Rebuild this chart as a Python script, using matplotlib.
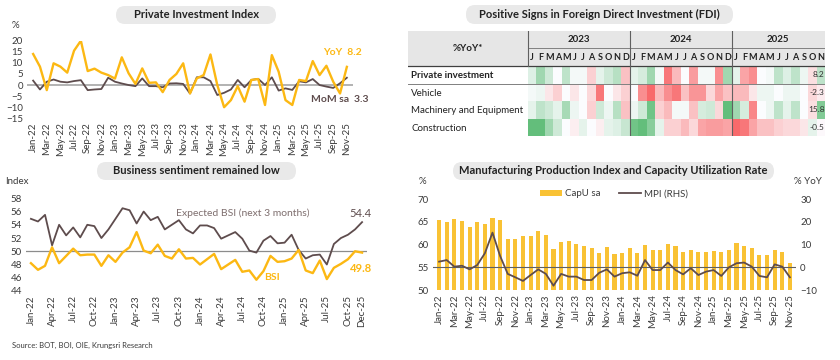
import numpy as np
import pandas as pd
import matplotlib
matplotlib.use("Agg")
import matplotlib.pyplot as plt
from matplotlib.patches import FancyBboxPatch, Patch, Rectangle
from matplotlib.lines import Line2D
from matplotlib.colors import LinearSegmentedColormap, TwoSlopeNorm
from matplotlib.transforms import IdentityTransform

plt.rcParams["font.family"] = ["Lato", "DejaVu Sans"]

W, H = 840, 360
YELLOW = "#FCB813"
BAR_YELLOW = "#F9C234"
BROWN = "#5E4C4D"
TXT = "#3A3A3A"

# ---- Private Investment Index (Jan-22 .. Nov-25) ----
pii_months = pd.date_range("2022-01", "2025-11", freq="MS").strftime("%b-%y").tolist()
pii_yoy = [14.0, 8.3, -2.3, 9.8, 8.3, 5.6, 15.5, 20.0, 6.3, 7.4, 5.6, 4.5,
           2.9, 12.5, 5.3, 0.5, 7.5, 1.0, 1.2, -3.2, 2.3, 5.0, 9.8, -3.8,
           3.0, 4.5, 13.8, 0.0, -10.0, -6.8, -0.5, -7.5, 2.3, 2.7, -9.0, 13.5,
           6.0, -6.8, -9.0, 2.3, 1.8, 10.8, 4.5, 8.7, 1.5, -3.8, 8.2]
pii_mom = [2.0, -2.0, 1.5, 2.5, 1.5, 1.2, 1.8, 2.2, -2.3, -2.0, -1.8, 3.3,
           1.5, 0.7, 0.0, -0.5, 3.0, -0.5, -0.5, -1.0, 0.7, 0.8, 0.5, -3.8,
           3.5, 3.5, 1.8, -4.5, -3.5, -2.0, 2.3, -1.0, 2.3, 2.8, 0.0, 3.5,
           -2.5, -1.5, -2.2, 1.7, 1.2, 2.7, 0.0, -0.7, -1.3, 0.8, 3.3]

# ---- Business sentiment (Jan-22 .. Dec-25) ----
bsi_months = pd.date_range("2022-01", "2025-12", freq="MS").strftime("%b-%y").tolist()
bsi = [48.2, 47.2, 47.8, 50.6, 48.2, 49.3, 50.4, 49.4, 49.5, 49.5, 47.8, 49.4,
       48.4, 49.8, 50.6, 52.9, 50.1, 49.7, 51.0, 49.3, 48.9, 50.3, 48.9, 49.0,
       48.0, 48.8, 49.6, 47.3, 48.0, 48.7, 46.9, 47.1, 45.7, 47.0, 49.3, 48.4,
       48.5, 48.9, 50.2, 47.1, 46.7, 48.6, 45.8, 47.5, 48.1, 48.8, 50.0, 49.8]
bsi_expected = [54.9, 54.5, 55.5, 50.9, 54.0, 52.4, 53.6, 52.1, 54.0, 53.8, 52.0, 53.3,
                54.9, 56.5, 56.2, 54.2, 56.0, 54.7, 55.2, 53.3, 54.0, 54.7, 53.3, 52.7,
                53.9, 53.9, 53.5, 51.9, 52.4, 52.9, 51.9, 50.1, 49.8, 51.6, 52.3, 51.2,
                51.3, 52.5, 50.2, 48.9, 49.4, 49.5, 48.0, 51.1, 52.0, 52.5, 53.3, 54.4]

# ---- FDI heatmap (%YoY, Jan-23 .. Nov-25) ----
fdi_rows = ["Private investment", "Vehicle", "Machinery and Equipment", "Construction"]
fdi_years = ["2023", "2024", "2025"]
fdi_month_letters = list("JFMAMJJASOND") * 2 + list("JFMAMJJASON")
fdi_private = [4, 12, 6, 0, 8, 1, 1, -6, 3, 6, 9, -8,
               3, 5, 12, 1, -18, -9, 0, -13, 1, 1, -15, 12,
               3, -12, -15, 0, 1, 8, 4, 8, 2, -4, 8.2]
fdi_vehicle = [1, 2, -3, -6, 0, -3, 0, -5, -18, 0, -3, -6,
               0, -15, -20, -9, -15, -18, -8, -14, -14, -5, -12, -8,
               -9, -9, -3, 2, 2, 0, 2, 2, 0, -5, -2.3]
fdi_machinery = [3, 8, 6, 3, 11, 2, 0, -6, 6, 2, 9, -8,
                 2, 6, 18, -6, -9, 1, 1, -8, 5, 6, -5, 21,
                 12, 5, -16, 0, 2, 8, 3, 8, 0, -4, 15.8]
fdi_construction = [21, 21, 12, 6, 0, -2, 3, 0, -2, 3, 4, 7,
                    18, 22, 15, 3, -6, -6, -9, -5, -12, -13, -13, -12,
                    -20, -18, -12, -8, -8, -6, -5, -5, -3, 3, -0.5]

# ---- Manufacturing (Jan-22 .. Nov-25) ----
mpi_months = pii_months
capu = [65.4, 65.1, 65.6, 65.2, 63.8, 64.9, 64.5, 65.8, 65.4, 61.3, 61.3, 61.8,
        61.8, 62.9, 62.1, 59.0, 60.6, 60.8, 60.1, 59.6, 59.2, 58.2, 59.4, 57.9,
        58.2, 59.3, 58.2, 59.9, 58.8, 58.8, 60.2, 59.7, 58.4, 58.9, 58.4, 58.4,
        58.7, 58.4, 58.9, 60.3, 59.6, 59.3, 57.7, 57.7, 58.9, 58.3, 55.9]
mpi = [2.5, 3.2, 0.3, 0.7, -0.9, 1.0, 6.2, 15.3, 5.0, -2.9, -4.4, -6.0,
       -3.4, -0.9, -2.9, -8.1, -2.9, -4.1, -4.1, -5.6, -5.6, -2.4, -0.9, -4.1,
       -2.6, -2.2, -3.7, 3.2, -1.2, -1.2, 2.1, -1.2, -3.1, -0.4, -3.4, -1.9,
       -1.2, -3.8, 0.0, 1.8, 2.1, 0.3, -3.8, -4.4, 1.3, 0.3, -4.4]


def px_axes(fig, x0, y0, x1, y1):
    return fig.add_axes([x0 / W, 1 - y1 / H, (x1 - x0) / W, (y1 - y0) / H])


def pill(fig, x0, y0, x1, y1, text):
    box = FancyBboxPatch((x0, H - y1), x1 - x0, y1 - y0,
                         boxstyle="round,pad=0,rounding_size=9",
                         transform=IdentityTransform(),
                         facecolor="#E9E9E9", edgecolor="none")
    fig.add_artist(box)
    fig.text((x0 + x1) / 2 / W, 1 - (y0 + y1) / 2 / H, text, ha="center",
             va="center", fontsize=8, fontweight="bold", color="#222222")


def style(ax):
    for s in ax.spines.values():
        s.set_visible(False)
    ax.tick_params(length=0, labelsize=7, colors=TXT, pad=3)
    ax.tick_params(axis="x", rotation=90)


def main():
    fig = plt.figure(figsize=(8.4, 3.6), dpi=100)

    # Private investment index
    pill(fig, 116, 6, 276, 24, "Private Investment Index")
    ax1 = px_axes(fig, 27, 40.7, 353, 118.3)
    x = np.arange(len(pii_months))
    ax1.axhline(0, color="#A6A6A6", lw=1.2, zorder=1)
    ax1.plot(x, pii_yoy, color=YELLOW, lw=1.7, zorder=3)
    ax1.plot(x, pii_mom, color=BROWN, lw=1.3, zorder=2)
    ax1.set_xlim(-0.9, len(x) - 0.1)
    ax1.set_ylim(-15, 20)
    ax1.set_yticks(range(-15, 25, 5))
    ax1.set_xticks(x[::2])
    ax1.set_xticklabels(pii_months[::2])
    style(ax1)
    ax1.annotate(f"YoY  {pii_yoy[-1]}", xy=(x[-1], pii_yoy[-1]), xytext=(-4, 14),
                 textcoords="offset pixels", ha="center", va="center",
                 color=YELLOW, fontsize=7.5, fontweight="bold")
    ax1.annotate(f"MoM sa  {pii_mom[-1]}", xy=(x[-1], pii_mom[-1]), xytext=(-7, -22),
                 textcoords="offset pixels", ha="center", va="center",
                 color=BROWN, fontsize=7.5, fontweight="bold")
    fig.text(15 / W, 1 - 25 / H, "%", fontsize=7, color=TXT, ha="center", va="center")

    # Business sentiment
    pill(fig, 97, 162, 296, 180, "Business sentiment remained low")
    ax2 = px_axes(fig, 26, 198.3, 367, 291)
    xb = np.arange(len(bsi_months))
    ax2.axhline(50, color="#8C8C8C", lw=0.9, zorder=1)
    ax2.plot(xb, bsi_expected, color=BROWN, lw=1.3, zorder=2)
    ax2.plot(xb, bsi, color=YELLOW, lw=1.7, zorder=3)
    ax2.set_xlim(-0.7, len(xb) - 0.3)
    ax2.set_ylim(44, 58)
    ax2.set_yticks(range(44, 60, 2))
    ticks = list(xb[::3]) + [xb[-1]]
    ax2.set_xticks(ticks)
    ax2.set_xticklabels([bsi_months[i] for i in ticks])
    style(ax2)
    ax2.text(30, 55.7, "Expected BSI (next 3 months)", color="#7E6E6E",
             fontsize=7.5, ha="center", va="center")
    ax2.annotate(f"{bsi_expected[-1]}", xy=(xb[-1], bsi_expected[-1]), xytext=(-2, 9),
                 textcoords="offset pixels", ha="center", va="center",
                 color=BROWN, fontsize=8)
    ax2.text(34.2, 46.0, "BSI", color=YELLOW, fontsize=7.5, fontweight="bold",
             ha="center", va="center")
    ax2.annotate(f"{bsi[-1]}", xy=(xb[-1], bsi[-1]), xytext=(-1, -16),
                 textcoords="offset pixels", ha="center", va="center",
                 color=YELLOW, fontsize=8, fontweight="bold")
    fig.text(17 / W, 1 - 182 / H, "Index", fontsize=7, color=TXT, ha="center", va="center")
    fig.text(12 / W, 1 - 345 / H, "Source: BOT, BOI, OIE, Krungsri Research",
             fontsize=5.5, color=TXT, ha="left", va="center")

    # FDI heatmap table
    pill(fig, 466, 5, 733, 24, "Positive Signs in Foreign Direct Investment (FDI)")
    ax3 = px_axes(fig, 408, 31, 825, 136)
    ncol = len(fdi_month_letters)
    left = -120 / ((825 - 528) / ncol)
    ax3.set_xlim(left, ncol)
    ax3.set_ylim(len(fdi_rows), -2)
    ax3.axis("off")
    ax3.add_patch(Rectangle((left, -2), ncol - left, 2, facecolor="#E6E6E6",
                            edgecolor="none"))
    grid = np.array([fdi_private, fdi_vehicle, fdi_machinery, fdi_construction])
    cmap = LinearSegmentedColormap.from_list("xl", ["#F8696B", "#FCFCFF", "#63BE7B"])
    ax3.pcolormesh(np.arange(ncol + 1), np.arange(len(fdi_rows) + 1), grid,
                   cmap=cmap, norm=TwoSlopeNorm(0, -20, 20))
    ax3.plot([left, ncol], [0, 0], color="#404040", lw=0.9)
    ax3.plot([left, ncol], [1, 1], color="#808080", lw=0.7)
    ax3.plot([left, ncol], [len(fdi_rows), len(fdi_rows)], color="#808080", lw=0.7)
    ax3.plot([0, ncol], [-1, -1], color="#808080", lw=0.7)
    for b in [0, 12, 24]:
        ax3.plot([b, b], [-2, len(fdi_rows) if b else 0], color="#606060", lw=0.8)
    ax3.text(left / 2, -1, "%YoY*", ha="center", va="center", fontsize=7,
             fontweight="bold", color="#222222")
    for i, yr in enumerate(fdi_years):
        start = i * 12
        end = min(start + 12, ncol)
        ax3.text((start + end) / 2, -1.5, yr, ha="center", va="center",
                 fontsize=7, fontweight="bold", color="#222222")
    for j, m in enumerate(fdi_month_letters):
        ax3.text(j + 0.5, -0.5, m, ha="center", va="center", fontsize=6.5,
                 fontweight="bold", color="#222222")
    for i, name in enumerate(fdi_rows):
        ax3.text(left + 0.4, i + 0.55, name, ha="left", va="center", fontsize=7,
                 fontweight="bold" if i == 0 else "normal", color="#222222")
        ax3.text(ncol - 0.05, i + 0.5, f"{grid[i, -1]:g}", ha="right", va="center",
                 fontsize=6, color="#333333")

    # Manufacturing production index
    pill(fig, 453, 162, 774, 180,
         "Manufacturing Production Index and Capacity Utilization Rate")
    ax4 = px_axes(fig, 433, 199.3, 796, 290)
    xm = np.arange(len(mpi_months))
    ax4.bar(xm, capu, width=0.55, color=BAR_YELLOW, zorder=1)
    ax4.set_ylim(50, 70)
    ax4.set_yticks(range(50, 75, 5))
    ax4.set_xlim(-0.8, len(xm) - 0.2)
    ax4.set_xticks(xm[::2])
    ax4.set_xticklabels(mpi_months[::2])
    style(ax4)
    ax5 = ax4.twinx()
    ax5.axhline(0, color="#606060", lw=0.8, zorder=1)
    ax5.plot(xm, mpi, color=BROWN, lw=1.3, zorder=3)
    ax5.set_ylim(-10, 30)
    ax5.set_yticks(range(-10, 40, 10))
    style(ax5)
    handles = [Patch(facecolor=BAR_YELLOW), Line2D([], [], color=BROWN, lw=1.3)]
    ax4.legend(handles, ["CapU sa", "MPI (RHS)"], loc="center",
               bbox_to_anchor=(614 / W, 1 - 194 / H), bbox_transform=fig.transFigure,
               ncol=2, frameon=False, fontsize=7, handlelength=2.2, handleheight=0.6,
               columnspacing=2.0, handletextpad=0.3, labelcolor=TXT)
    fig.text(422 / W, 1 - 181 / H, "%", fontsize=7, color=TXT, ha="center", va="center")
    fig.text(808 / W, 1 - 182 / H, "% YoY", fontsize=7, color=TXT, ha="center", va="center")

    fig.savefig("out.png", dpi=100)


if __name__ == "__main__":
    main()
